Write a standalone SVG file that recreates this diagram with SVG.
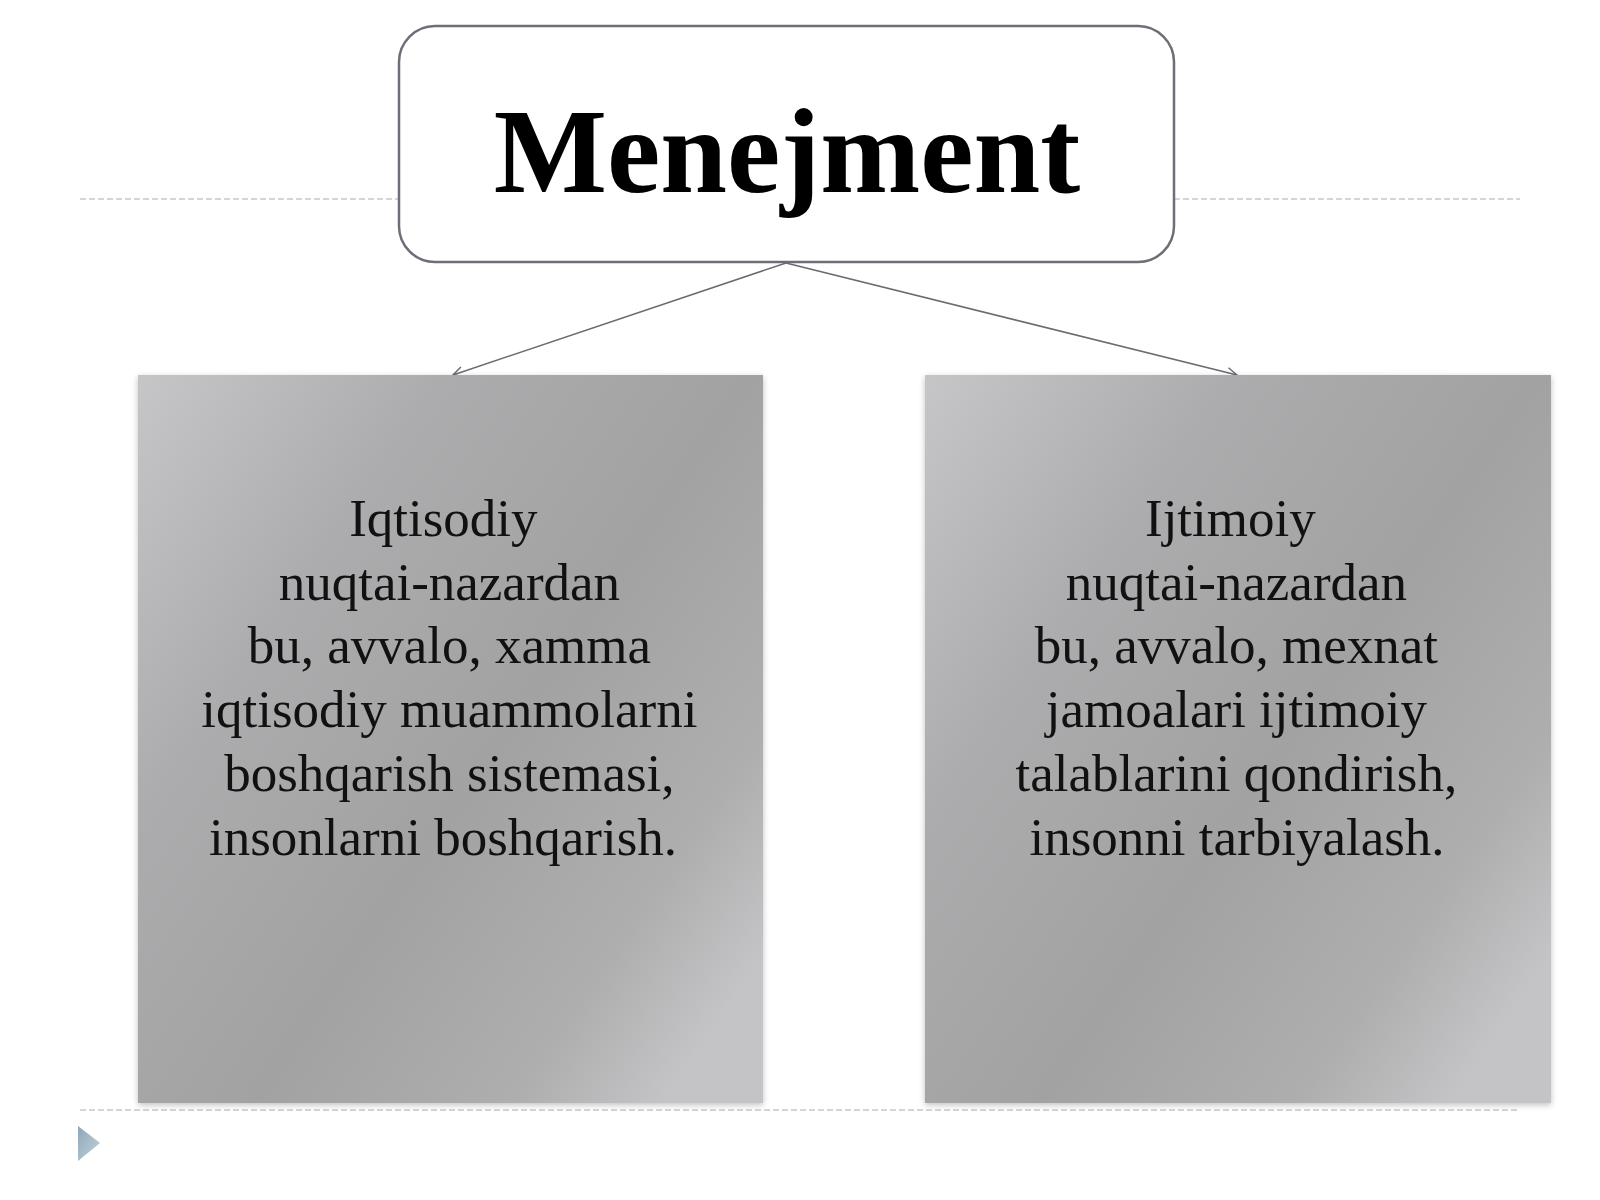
<svg xmlns="http://www.w3.org/2000/svg" width="1600" height="1200" viewBox="0 0 1600 1200">
<defs>
<linearGradient id="boxGrad" x1="0" y1="0" x2="1" y2="0.8">
<stop offset="0" stop-color="#c6c6c8"/>
<stop offset="0.3" stop-color="#acacae"/>
<stop offset="0.6" stop-color="#a2a2a2"/>
<stop offset="0.85" stop-color="#aeaeaf"/>
<stop offset="1" stop-color="#c4c4c6"/>
</linearGradient>
<linearGradient id="triGrad" x1="0" y1="0" x2="1" y2="1">
<stop offset="0" stop-color="#8fa6b8"/>
<stop offset="1" stop-color="#c4d2dc"/>
</linearGradient>
<filter id="shadow" x="-5%" y="-5%" width="110%" height="110%">
<feGaussianBlur in="SourceAlpha" stdDeviation="3"/>
<feOffset dx="0" dy="2"/>
<feComponentTransfer><feFuncA type="linear" slope="0.25"/></feComponentTransfer>
<feMerge><feMergeNode/><feMergeNode in="SourceGraphic"/></feMerge>
</filter>
<marker id="arrow" markerWidth="14" markerHeight="14" refX="12" refY="7" orient="auto" markerUnits="userSpaceOnUse">
<path d="M2,2 L12,7 L2,12" fill="none" stroke="#6a6a72" stroke-width="1.5"/>
</marker>
<style>
.dash{stroke:#c8c8c8;stroke-width:1.5;stroke-dasharray:6 3;fill:none}
.box{fill:url(#boxGrad);filter:url(#shadow)}
.body{font-family:"Liberation Serif","Times New Roman",serif;font-size:53px;fill:#111;text-anchor:middle}
.title{font-family:"Liberation Serif","Times New Roman",serif;font-size:120px;font-weight:bold;fill:#000;text-anchor:middle}
.conn{stroke:#6a6a72;stroke-width:1.5;fill:none}
</style>
</defs>
<rect width="1600" height="1200" fill="#ffffff"/>
<g id="decor">
<line class="dash" x1="80" y1="199" x2="398" y2="199"/>
<line class="dash" x1="1174" y1="199" x2="1520" y2="199"/>
<line class="dash" x1="80" y1="1110" x2="1520" y2="1110"/>
<path d="M78,1126 L100,1143 L78,1161 Z" fill="url(#triGrad)"/>
</g>
<g id="connectors">
<line class="conn" x1="786" y1="263" x2="453" y2="375" marker-end="url(#arrow)"/>
<line class="conn" x1="786" y1="263" x2="1237" y2="375" marker-end="url(#arrow)"/>
</g>
<g id="node-menejment">
<rect x="399" y="26" width="775" height="236" rx="36" ry="36" fill="#ffffff" stroke="#6e6e78" stroke-width="2.5"/>
<text class="title" x="787" y="192">Menejment</text>
</g>
<g id="node-iqtisodiy">
<rect class="box" x="138" y="375" width="625" height="728"/>
<text class="body">
<tspan x="450" y="536">Iqtisodiy</tspan>
<tspan x="456" y="600">nuqtai-nazardan</tspan>
<tspan x="456" y="663">bu, avvalo, xamma</tspan>
<tspan x="456" y="727">iqtisodiy muammolarni</tspan>
<tspan x="456" y="791">boshqarish sistemasi,</tspan>
<tspan x="443" y="855">insonlarni boshqarish.</tspan>
</text>
</g>
<g id="node-ijtimoiy">
<rect class="box" x="925" y="375" width="626" height="728"/>
<text class="body">
<tspan x="1237" y="536">Ijtimoiy</tspan>
<tspan x="1243" y="600">nuqtai-nazardan</tspan>
<tspan x="1243" y="663">bu, avvalo, mexnat</tspan>
<tspan x="1243" y="727">jamoalari ijtimoiy</tspan>
<tspan x="1243" y="791">talablarini qondirish,</tspan>
<tspan x="1237" y="855">insonni tarbiyalash.</tspan>
</text>
</g>
</svg>
